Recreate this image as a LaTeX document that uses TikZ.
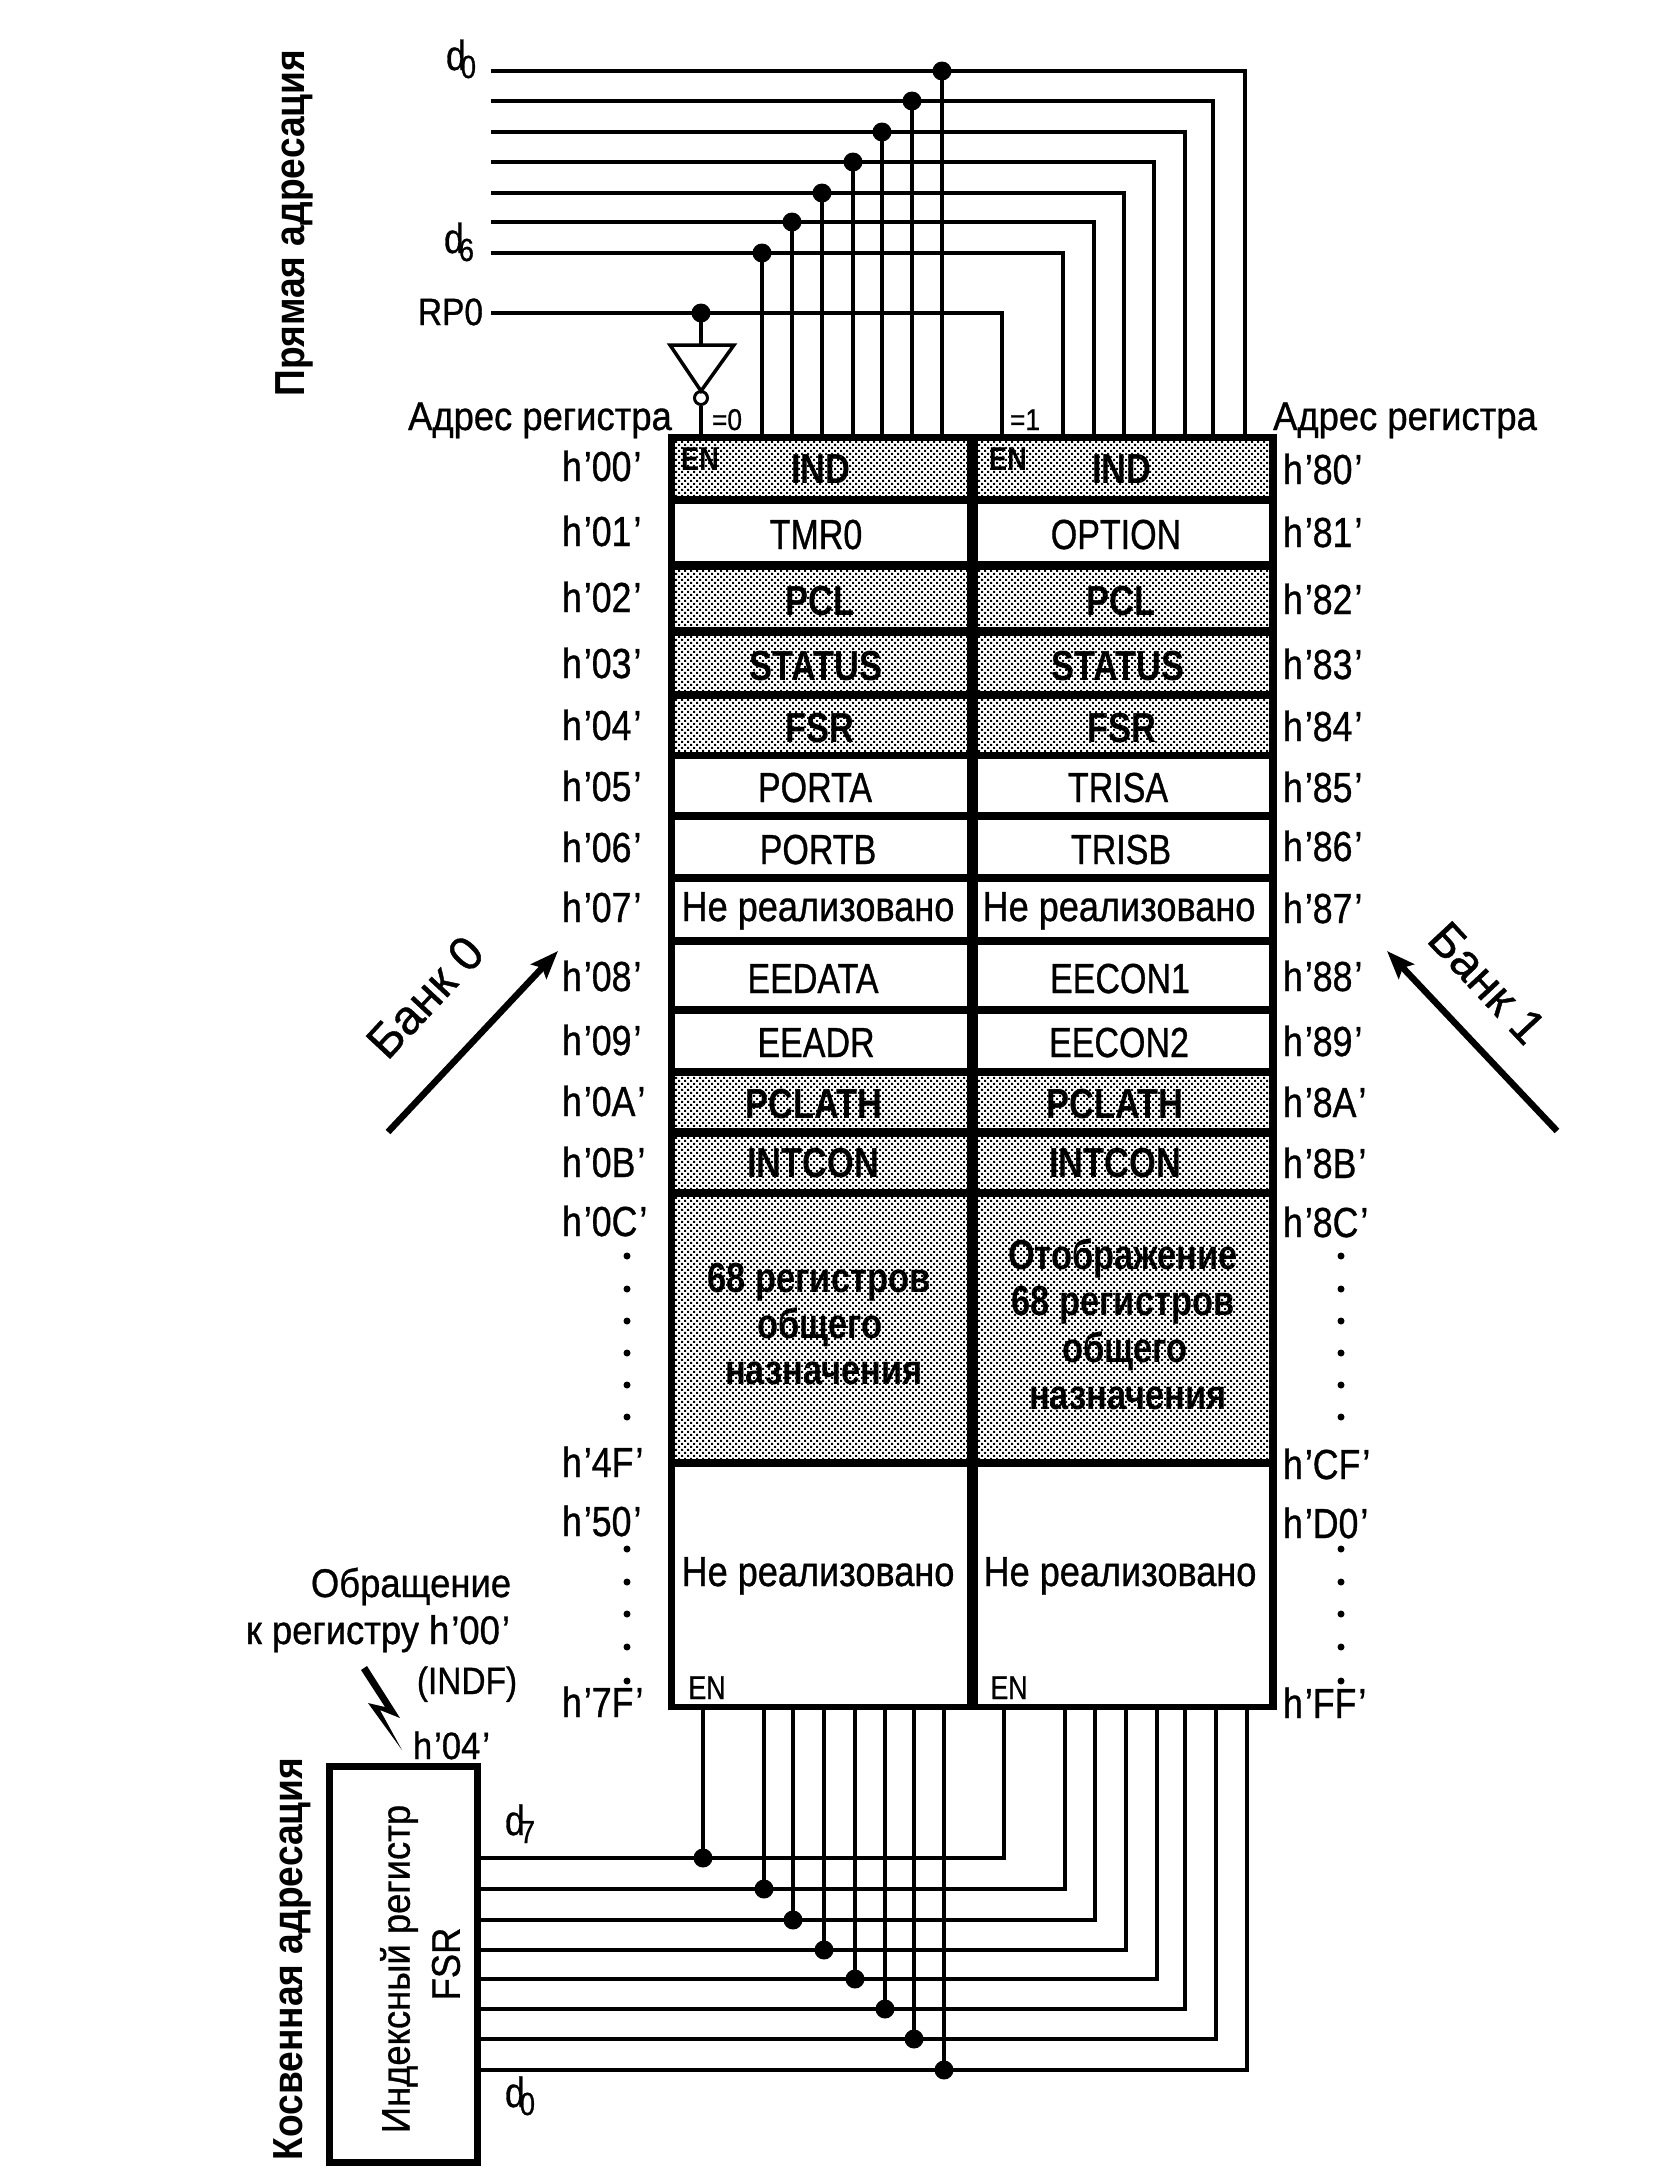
\documentclass[tikz,border=0pt]{standalone}
\usepackage{fontspec}
\setmainfont[FakeBold=0.8]{Liberation Sans}
\newfontfamily\condf[FakeStretch=0.81,FakeBold=0.8]{Liberation Sans}
\newfontfamily\labf[FakeStretch=0.85,FakeBold=0.8]{Liberation Sans}
\newfontfamily\cyrf[FakeStretch=0.86,FakeBold=0.8]{Liberation Sans}
\newfontfamily\condb[FakeStretch=0.82]{Liberation Sans Bold}
\newfontfamily\vertb[FakeStretch=0.885]{Liberation Sans Bold}
\newfontfamily\midf[FakeStretch=0.88,FakeBold=0.8]{Liberation Sans}
\newfontfamily\midw[FakeStretch=0.91,FakeBold=0.8]{Liberation Sans}
\usetikzlibrary{patterns,arrows.meta}
\pgfdeclarepatternformonly{dith}{\pgfqpoint{-1pt}{-1pt}}{\pgfqpoint{7pt}{7pt}}{\pgfqpoint{6pt}{6pt}}{%
  \pgfpathrectangle{\pgfqpoint{0pt}{0pt}}{\pgfqpoint{2.1pt}{2.1pt}}%
  \pgfpathrectangle{\pgfqpoint{3pt}{3pt}}{\pgfqpoint{2.1pt}{2.1pt}}%
  \pgfusepath{fill}}
\newcommand{\fs}[1]{\fontsize{#1}{#1}\selectfont}
\newcommand{\ap}{\kern2pt’}
\tikzset{
  x=1pt,y=-1pt,
  txt/.style={inner sep=0pt,outer sep=0pt,anchor=base,font=\condf\fs{42}},
  lab/.style={inner sep=0pt,outer sep=0pt,anchor=base west,font=\labf\fs{42}},
  reg/.style={txt},
  creg/.style={txt,font=\cyrf\fs{42}},
  greg/.style={txt,font=\condb\fs{42}},
  en/.style={txt,font=\condf\fs{33}},
  genb/.style={txt,font=\condb\fs{33}},
  vdots/.style={circle,fill=black,minimum size=7pt,inner sep=0pt},
  wcell/.style={fill=white},
  gcell/.style={fill=white,postaction={pattern=dith,pattern color=black}},
  hbus/.style={line width=4pt,line cap=rect,line join=miter},
  vbus/.style={line width=3.5pt},
  jn/.style={circle,fill=black,minimum size=19pt,inner sep=0pt},
  bank/.style={line width=6.5pt,-{Stealth[length=28pt,width=21pt,inset=5pt]}},
}
\begin{document}
\begin{tikzpicture}
\useasboundingbox[fill=white] (0,0) rectangle (1677,2168);
% register block
\fill[black] (668,434) rectangle (1277,1710);
\foreach \a/\b/\s in {441/496/gcell,504/561/wcell,570/627/gcell,636/691/gcell,699/752/gcell,759/812/wcell,820/874/wcell,882/937/wcell,945/1006/wcell,1014/1068/wcell,1076/1128/gcell,1137/1189/gcell,1197/1459/gcell,1467/1704/wcell}{
  \path[\s] (675,\a) rectangle (967,\b);
  \path[\s] (978,\a) rectangle (1269,\b);
}
% cell texts
\node[greg] (i0) at (821,483) {IND};
\node[greg] (i1) at (1122,483) {IND};
\node[genb] (en0) at (700,470) {EN};
\node[genb] (en1) at (1008,470) {EN};
\node[reg] (t0) at (816,549) {TMR0};
\node[reg] (t1) at (1116,549) {OPTION};
\node[greg] (p0) at (820,615) {PCL};
\node[greg] (p1) at (1121,615) {PCL};
\node[greg] (s0) at (816,680) {STATUS};
\node[greg] (s1) at (1118,680) {STATUS};
\node[greg] (f0) at (820,742) {FSR};
\node[greg] (f1) at (1122,742) {FSR};
\node[reg] (pa) at (815,802) {PORTA};
\node[reg] (ta) at (1118,802) {TRISA};
\node[reg] (pb) at (818,864) {PORTB};
\node[reg] (tb) at (1121,864) {TRISB};
\node[creg] (n0) at (818,921) {Не реализовано};
\node[creg] (n1) at (1119,921) {Не реализовано};
\node[reg] (ed) at (813,993) {EEDATA};
\node[reg] (ec1) at (1120,993) {EECON1};
\node[reg] (ea) at (816,1057) {EEADR};
\node[reg] (ec2) at (1119,1057) {EECON2};
\node[greg] (pl0) at (814,1118) {PCLATH};
\node[greg] (pl1) at (1115,1118) {PCLATH};
\node[greg] (ic0) at (813,1177) {INTCON};
\node[greg] (ic1) at (1115,1177) {INTCON};
\node[greg] (g1) at (819,1292) {68 регистров};
\node[greg] (g2) at (820,1338) {общего};
\node[greg] (g3) at (824,1384) {назначения};
\node[greg] (m0) at (1123,1269) {Отображение};
\node[greg] (m1) at (1123,1315) {68 регистров};
\node[greg] (m2) at (1125,1362) {общего};
\node[greg] (m3) at (1128,1409) {назначения};
\node[creg] (n2) at (818,1586) {Не реализовано};
\node[creg] (n3) at (1120,1586) {Не реализовано};
\node[en] (en2) at (707,1699) {EN};
\node[en] (en3) at (1009,1699) {EN};
% left addresses
\foreach \n/\t/\y in {a00/h\ap 00\ap/481,a01/h\ap 01\ap/546,a02/h\ap 02\ap/612,a03/h\ap 03\ap/678,a04/h\ap 04\ap/740,a05/h\ap 05\ap/801,a06/h\ap 06\ap/862,a07/h\ap 07\ap/922,a08/h\ap 08\ap/991,a09/h\ap 09\ap/1055,a0a/h\ap 0A\ap/1116,a0b/h\ap 0B\ap/1177,a0c/h\ap 0C\ap/1236,a4f/h\ap 4F\ap/1477,a50/h\ap 50\ap/1536,a7f/h\ap 7F\ap/1717}{
  \node[lab] (\n) at (562,\y) {\t};
}
% right addresses
\foreach \n/\t/\y in {b80/h\ap 80\ap/484,b81/h\ap 81\ap/547,b82/h\ap 82\ap/614,b83/h\ap 83\ap/679,b84/h\ap 84\ap/741,b85/h\ap 85\ap/802,b86/h\ap 86\ap/861,b87/h\ap 87\ap/923,b88/h\ap 88\ap/991,b89/h\ap 89\ap/1056,b8a/h\ap 8A\ap/1117,b8b/h\ap 8B\ap/1178,b8c/h\ap 8C\ap/1237,bcf/h\ap CF\ap/1479,bd0/h\ap D0\ap/1538,bff/h\ap FF\ap/1718}{
  \node[lab] (\n) at (1283,\y) {\t};
}
% vertical dots
\foreach \y in {1256,1289,1321,1353,1385,1417,1549,1582,1614,1647,1681}{
  \node[vdots] (dl\y) at (627,\y) {};
  \node[vdots] (dr\y) at (1341,\y) {};
}
% top buses
\foreach \i/\y/\l/\r in {0/71/942/1245,1/101/912/1213,2/132/882/1185,3/162/853/1154,4/193/822/1124,5/222/792/1094,6/253/762/1063}{
  \coordinate (ts\i) at (493,\y);
  \coordinate (tc\i) at (\r,\y);
  \coordinate (te\i) at (\r,438);
  \coordinate (tb\i) at (\l,438);
  \node[jn] (tj\i) at (\l,\y) {};
  \draw[vbus] (tj\i.center) -- (tb\i);
  \draw[hbus] (ts\i) -- (tc\i);
  \draw[vbus] (tc\i) -- (te\i);
}
\coordinate (rs) at (493,313);
\coordinate (rc) at (1002,313);
\coordinate (re) at (1002,438);
\node[jn] (rj) at (701,313) {};
\draw[hbus] (rs) -- (rc);
\draw[vbus] (rc) -- (re);
\coordinate (il) at (670,345);
\coordinate (ir) at (734,345);
\coordinate (ia) at (701,391);
\coordinate (itop) at (701,345);
\coordinate (ib) at (701,438);
\node[draw,circle,line width=3pt,minimum size=13pt,inner sep=0pt,fill=white] (ic) at (701,398) {};
\draw[vbus] (rj.center) -- (itop);
\draw[line width=3.5pt,line join=miter] (il) -- (ir) -- (ia) -- cycle;
\draw[vbus] (ic.south) -- (ib);
% bottom buses
\foreach \i/\y/\l/\r in {0/1858/703/1004,1/1889/764/1065,2/1920/793/1095,3/1950/824/1126,4/1979/855/1157,5/2009/885/1185,6/2039/914/1216,7/2070/944/1247}{
  \coordinate (bs\i) at (477,\y);
  \coordinate (bc\i) at (\r,\y);
  \coordinate (be\i) at (\r,1707);
  \coordinate (bb\i) at (\l,1707);
  \node[jn] (bj\i) at (\l,\y) {};
  \draw[vbus] (bj\i.center) -- (bb\i);
  \draw[hbus] (bs\i) -- (bc\i);
  \draw[vbus] (bc\i) -- (be\i);
}
% FSR box
\node[draw,line width=7pt,fill=white,minimum width=148pt,minimum height=396pt,inner sep=0pt] (fsrbox) at (403,1964.5) {};
\node[txt,anchor=center,rotate=90,font=\midw\fs{40}] (fsrt) at (399,1969) {Индексный регистр};
\node[txt,anchor=center,rotate=90,font=\midw\fs{40}] (fsrn) at (446,1964) {FSR};
% side titles
\node[txt,anchor=center,rotate=90,font=\vertb\fs{42}] (pa1) at (294,223) {Прямая адресация};
\node[txt,anchor=center,rotate=90,font=\vertb\fs{42}] (ka1) at (292,1959) {Косвенная адресация};
% signal labels
\node[lab] (d0t) at (446,70) {d\kern-5pt\raisebox{-8pt}{\fs{32}0}};
\node[lab] (d6t) at (444,253) {d\kern-5pt\raisebox{-8pt}{\fs{32}6}};
\node[txt,anchor=base east,font=\midf\fs{38}] (rp0) at (483,325) {RP0};
\node[lab] (d7b) at (505,1835) {d\kern-5pt\raisebox{-8pt}{\fs{32}7}};
\node[lab] (d0b) at (505,2107) {d\kern-5pt\raisebox{-8pt}{\fs{32}0}};
\node[txt,font=\midw\fs{40}] (al) at (540,430) {Адрес регистра};
\node[txt,font=\midw\fs{40}] (ar) at (1405,430) {Адрес регистра};
\node[txt,font=\midf\fs{30}] (eq0) at (727,430) {=0};
\node[txt,font=\midf\fs{30}] (eq1) at (1025,430) {=1};
\node[txt,font=\midw\fs{40}] (ob1) at (411,1597) {Обращение};
\node[txt,anchor=base east,font=\midw\fs{40}] (ob2) at (510,1644) {к регистру h\ap 00\ap};
\node[txt,font=\midf\fs{38}] (ob3) at (467,1694) {(INDF)};
\node[txt,anchor=base west,font=\midw\fs{38}] (h04) at (413,1759) {h\ap 04\ap};
% lightning
\fill (361,1670) -- (367,1666) -- (400,1718) -- (380,1710) -- (402,1750) -- (368,1703) -- (385,1707) -- cycle;
% banks
\coordinate (b0a) at (388,1132);
\coordinate (b0b) at (558,951);
\coordinate (b1a) at (1557,1131);
\coordinate (b1b) at (1387,951);
\draw[bank] (b0a) -- (b0b);
\draw[bank] (b1a) -- (b1b);
\node[txt,anchor=center,rotate=47,font=\fs{48}] (bk0) at (425,997) {Банк 0};
\node[txt,anchor=center,rotate=-47,font=\fs{48}] (bk1) at (1487,983) {Банк 1};
\end{tikzpicture}
\end{document}
